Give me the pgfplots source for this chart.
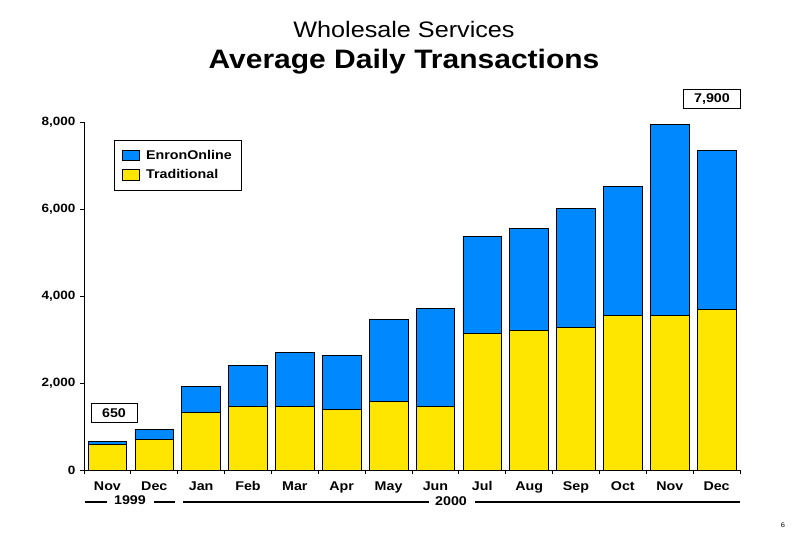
\documentclass[border=0pt]{standalone}
\usepackage{fontspec}
\setmainfont{Liberation Sans}[FakeStretch=1.125]
\usepackage{pgfplots}
\pgfplotsset{compat=1.18}
\definecolor{eolblue}{RGB}{0,136,255}
\definecolor{tradyellow}{RGB}{255,230,0}
\begin{document}
\begin{tikzpicture}
\path[use as bounding box] (0,0) rectangle (607.5pt,405pt);
\begin{axis}[
  at={(63pt,52.5pt)}, anchor=south west,
  scale only axis, width=492pt, height=261pt,
  xmin=-0.5, xmax=13.5, ymin=0, ymax=8000,
  ybar stacked, bar width=29pt,
  axis x line*=bottom, axis y line*=left,
  axis line style={line width=0.75pt},
  xtick={-0.5,0.5,...,13.5}, xticklabels={},
  extra x ticks={0,1,...,13},
  extra x tick labels={Nov,Dec,Jan,Feb,Mar,Apr,May,Jun,Jul,Aug,Sep,Oct,Nov,Dec},
  extra x tick style={major tick length=0pt,
    xticklabel style={font=\bfseries\fontsize{9.5}{11}\selectfont, yshift=-5pt}},
  ytick={0,2000,4000,6000,8000},
  yticklabel style={/pgf/number format/1000 sep={,}, font=\bfseries\fontsize{9}{11}\selectfont},
  /pgf/number format/assume math mode=true,
  tick align=outside, major tick length=3pt,
  tick style={black, line width=0.75pt},
  legend style={at={(0.0457,0.948)}, anchor=north west, draw=black, line width=0.6pt,
    font=\bfseries\fontsize{9.5}{11}\selectfont, inner xsep=5.5pt, inner ysep=5pt, row sep=2.5pt,
    column sep=3pt, cells={anchor=west}},
  legend image code/.code={\draw[#1, line width=0.6pt] (0pt,-4.1pt) rectangle (12.75pt,4.1pt);},
  reverse legend,
]
\addplot[fill=tradyellow, draw=black, line width=0.6pt] coordinates {
(0,590) (1,705) (2,1326) (3,1456) (4,1456) (5,1395) (6,1578) (7,1463)
(8,3142) (9,3211) (10,3280) (11,3548) (12,3548) (13,3694)};
\addplot[fill=eolblue, draw=black, line width=0.6pt] coordinates {
(0,60) (1,230) (2,605) (3,942) (4,1249) (5,1241) (6,1886) (7,2253)
(8,2222) (9,2337) (10,2728) (11,2973) (12,4400) (13,3646)};
\legend{Traditional,EnronOnline}
\end{axis}
\begin{scope}[x=0.75pt,y=-0.75pt,shift={(0pt,405pt)}]
\node[font=\fontsize{16.8}{20}\selectfont] at (404,29) {Wholesale Services};
\node[font=\bfseries\fontsize{20}{24}\selectfont] at (404,62) {Average Daily Transactions};
\node[draw, line width=0.75pt, minimum width=34.5pt, minimum height=13.9pt, inner sep=0pt,
  font=\bfseries\fontsize{9.5}{11}\selectfont] at (114,413) {650};
\node[draw, line width=0.75pt, minimum width=42.75pt, minimum height=14.25pt, inner sep=0pt,
  font=\bfseries\fontsize{9.5}{11}\selectfont] at (712,98.8) {7,900};
\draw[line width=1.5pt] (85,501.5) -- (107,501.5) (154,501.5) -- (175,501.5)
  (183,501.5) -- (429,501.5) (475,501.5) -- (740,501.5);
\node[font=\bfseries\fontsize{9.5}{11}\selectfont] at (130,500) {1999};
\node[font=\bfseries\fontsize{9.5}{11}\selectfont] at (451,501) {2000};
\node[font=\fontsize{5}{6}\selectfont] at (783,525) {6};
\end{scope}
\end{tikzpicture}
\end{document}
